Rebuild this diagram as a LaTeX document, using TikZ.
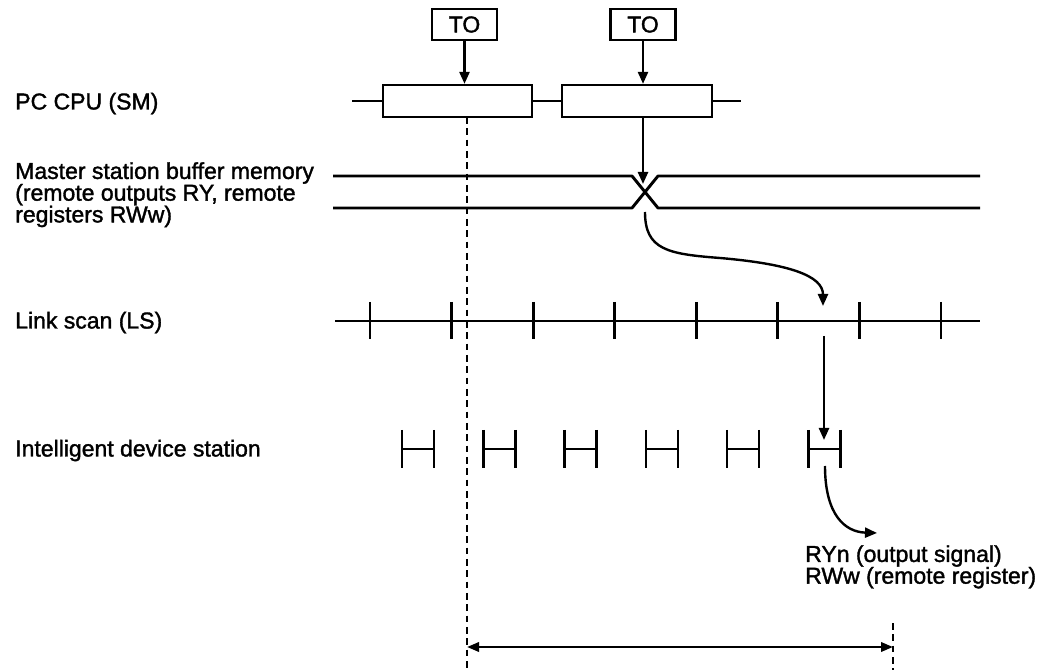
\documentclass[tikz,border=0pt]{standalone}
\usepackage{fontspec}
\setmainfont{Liberation Sans}[FakeBold=1.5]
\usetikzlibrary{arrows.meta}
\begin{document}
\begin{tikzpicture}[x=0.75pt,y=-0.75pt,
  lbl/.style={inner sep=0pt,font=\fontsize{17.25}{16.3}\selectfont,align=left},
  tobox/.style={draw,line width=1.6pt,minimum width=48.75pt,minimum height=23.25pt,inner sep=0pt,font=\fontsize{17.25}{16.1}\selectfont},
  smbox/.style={draw,line width=1.7pt,minimum height=24pt,inner sep=0pt},
  heavy/.style={line width=2.2pt},
  thin/.style={line width=1.8pt},
  arr/.style={line width=1.8pt,-{Triangle[length=9pt,width=7.5pt]}},
  dimarr/.style={line width=1.8pt,{Triangle[length=9pt,width=7pt]}-{Triangle[length=9pt,width=7pt]}},
  dashline/.style={line width=1.5pt,dash pattern=on 5pt off 3.5pt}]
\useasboundingbox (0,0) rectangle (1051,670);

% labels
\node[lbl,anchor=base west] (lsm) at (15,109.5) {PC CPU (SM)};
\node[lbl,anchor=north west] (lbuf) at (15,162) {Master station buffer memory\\(remote outputs RY, remote\\registers RWw)};
\node[lbl,anchor=base west] (lls) at (15,328.5) {Link scan (LS)};
\node[lbl,anchor=base west] (lint) at (15,456.5) {Intelligent device station};
\node[lbl,anchor=north west] (lout) at (805,545) {RYn (output signal)\\RWw (remote register)};

% TO boxes and SM boxes
\node[tobox] (to1) at (464.5,24.5) {TO};
\node[tobox] (to2) at (643,24.5) {TO};
\node[smbox,minimum width=111.75pt] (sm1) at (457.5,101) {};
\node[smbox,minimum width=112.5pt] (sm2) at (637,101) {};
\coordinate (smL) at (352,101);
\coordinate (smR) at (741,101);
\draw[thin] (smL) -- (sm1.west) (sm1.east) -- (sm2.west) (sm2.east) -- (smR);
\draw[arr] (to1.south) -- (to1.south |- sm1.north);
\draw[arr] (to2.south) -- (to2.south |- sm2.north);

% buffer memory lines
\coordinate (bTL) at (333,176);
\coordinate (bBL) at (333,208);
\coordinate (bTR) at (980,176);
\coordinate (bBR) at (980,208);
\coordinate (xtop) at (643,184);
\coordinate (xbot) at (645,212);
\draw[heavy,line join=round] (bTL) -- (632,176) -- (658,208) -- (bBR);
\draw[heavy,line join=round] (bBL) -- (632,208) -- (658,176) -- (bTR);
\draw[arr] (sm2.south -| xtop) -- (xtop);

% link scan
\coordinate (lsL) at (335,321);
\coordinate (lsR) at (980,321);
\draw[heavy] (lsL) -- (lsR);
\foreach \i in {0,...,7}{
  \draw[heavy] ({370+81.57*\i},302) -- ({370+81.57*\i},339);
}
\coordinate (lstip) at (823,306);
\draw[arr] (xbot) .. controls (645,250) and (668,254) .. (720,258)
  .. controls (790,264) and (823,276) .. (lstip);

% intelligent device station brackets
\foreach \i in {0,...,5}{
  \pgfmathsetmacro{\l}{402+81.3*\i}
  \draw[thin] (\l,430) -- (\l,468) (\l+32,430) -- (\l+32,468) (\l,449) -- (\l+32,449);
}
\coordinate (lsbot) at (824,336);
\coordinate (brtop) at (824,440);
\draw[arr] (lsbot) -- (brtop);
\coordinate (brbot) at (825,466);
\coordinate (outtip) at (877,533);
\draw[arr] (brbot) .. controls (825,515) and (845,532) .. (outtip);

% dashed lines and dimension
\coordinate (d1a) at (467,117);
\coordinate (d1b) at (467,670);
\coordinate (d2a) at (893,623);
\coordinate (d2b) at (893,670);
\draw[dashline] (d1a) -- (d1b);
\draw[dashline] (d2a) -- (d2b);
\coordinate (dimL) at (467,647);
\coordinate (dimR) at (893,647);
\draw[dimarr] (dimL) -- (dimR);
\end{tikzpicture}
\end{document}
